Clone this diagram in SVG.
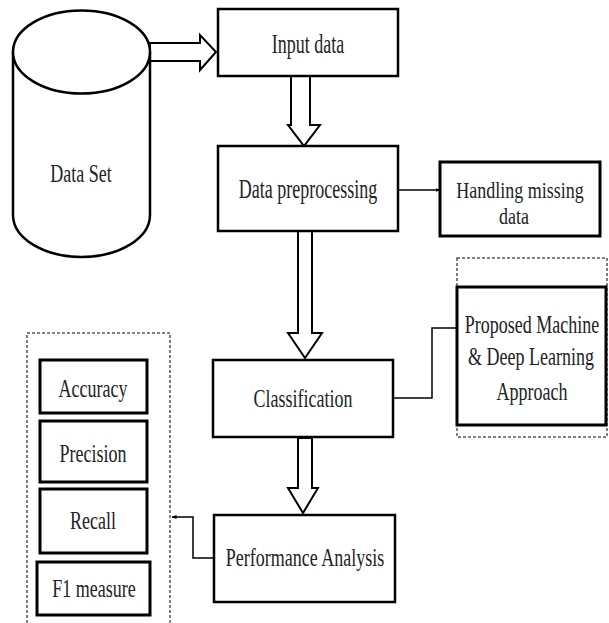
<svg xmlns="http://www.w3.org/2000/svg" width="609" height="623" viewBox="0 0 609 623">
<style>
.box{fill:#fff;stroke:#000;stroke-width:2.5}
.sbox{fill:#fff;stroke:#000;stroke-width:3}
.dash{fill:none;stroke:#555;stroke-width:1.5;stroke-dasharray:3 2}
.blk{fill:#fff;stroke:#000;stroke-width:2;stroke-linejoin:miter}
.ln{fill:none;stroke:#000;stroke-width:1.5}
text{font-family:"Liberation Serif","Times New Roman",serif;font-size:18px;fill:#222;text-anchor:middle}
</style>
<defs>
<marker id="ah" viewBox="0 0 10 10" refX="9" refY="5" markerWidth="5" markerHeight="5" orient="auto" markerUnits="userSpaceOnUse">
<path d="M0,1 L10,5 L0,9 z" fill="#000"/>
</marker>
</defs>
<g id="dashed-groups">
<rect class="dash" x="457" y="258" width="150" height="179"/>
<rect class="dash" x="27" y="333" width="143" height="292"/>
</g>
<g id="connectors">
<polygon class="blk" points="150,43 200,43 200,35 216,52 200,70 200,61 150,61"/>
<polygon class="blk" points="291,76 310,76 310,125 320,125 304,146 288,125 291,125"/>
<polygon class="blk" points="298,231 312,231 312,333 322,333 305,358 288,333 298,333"/>
<polygon class="blk" points="298,438 312,438 312,488 318,488 303,513 288,488 298,488"/>
<line class="ln" x1="398" y1="190" x2="440" y2="190" marker-end="url(#ah)"/>
<polyline class="ln" points="393,398 432,398 432,328 457,328"/>
<polyline class="ln" points="214,558 193,558 193,517 172,517" marker-end="url(#ah)"/>
</g>
<g id="dataset">
<path class="box" d="M13,52 L13,215 A68.5,42 0 0 0 150,215 L150,52"/>
<ellipse class="box" cx="81.5" cy="52" rx="68.5" ry="41.5"/>
<text transform="translate(81 182) scale(1 1.4)">Data Set</text>
</g>
<g id="input">
<rect class="box" x="218" y="9" width="180" height="67"/>
<text transform="translate(308 53) scale(1 1.5)">Input data</text>
</g>
<g id="preprocessing">
<rect class="box" x="218" y="146" width="180" height="85"/>
<text transform="translate(308 198) scale(1 1.5)">Data preprocessing</text>
</g>
<g id="missing">
<rect class="sbox" x="440" y="162" width="160" height="74"/>
<text transform="translate(520 198) scale(1 1.25)">Handling missing</text>
<text transform="translate(514 224) scale(1 1.25)">data</text>
</g>
<g id="classification">
<rect class="box" x="213" y="360" width="180" height="77"/>
<text transform="translate(303 407) scale(1 1.45)">Classification</text>
</g>
<g id="proposed">
<rect class="sbox" x="457" y="287" width="149" height="138"/>
<text transform="translate(532 333) scale(1 1.4)">Proposed Machine</text>
<text transform="translate(531 365) scale(1 1.4)">&amp; Deep Learning</text>
<text transform="translate(532 400) scale(1 1.4)">Approach</text>
</g>
<g id="performance">
<rect class="box" x="214" y="515" width="181" height="87"/>
<text transform="translate(305 566) scale(1 1.45)">Performance Analysis</text>
</g>
<g id="accuracy">
<rect class="sbox" x="40" y="360" width="107" height="53"/>
<text transform="translate(93 397) scale(1 1.4)">Accuracy</text>
</g>
<g id="precision">
<rect class="sbox" x="40" y="421" width="107" height="61"/>
<text transform="translate(93 462) scale(1 1.4)">Precision</text>
</g>
<g id="recall">
<rect class="sbox" x="40" y="489" width="107" height="64"/>
<text transform="translate(93 529) scale(1 1.4)">Recall</text>
</g>
<g id="f1">
<rect class="sbox" x="37" y="562" width="113" height="53"/>
<text transform="translate(94 597) scale(1 1.4)">F1 measure</text>
</g>
</svg>
